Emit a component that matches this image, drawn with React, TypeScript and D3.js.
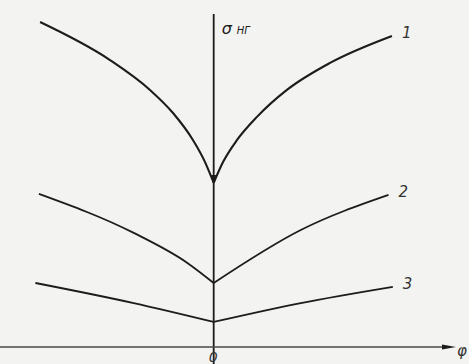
import React from "react";
import * as d3 from "d3";

// Stress σ_НГ versus angle φ, three curves with a cusp at φ = 0
const curve1Left: [number, number][] = [
  [-1.003, 10.0], [-0.599, 8.83], [-0.368, 7.91], [-0.235, 7.2],
  [-0.12, 6.37], [-0.05, 5.69], [0, 5.05],
];
const curve1Right: [number, number][] = [
  [0, 5.05], [0.054, 5.69], [0.135, 6.37], [0.25, 7.08],
  [0.423, 7.91], [0.672, 8.74], [1.03, 9.57],
];
const curve2Left: [number, number][] = [
  [-1.01, 4.71], [-0.462, 3.51], [-0.15, 2.58], [0, 1.97],
];
const curve2Right: [number, number][] = [
  [0, 1.97], [0.503, 3.6], [1.01, 4.68],
];
const curve3Left: [number, number][] = [
  [-1.03, 1.97], [-0.462, 1.35], [0, 0.77],
];
const curve3Right: [number, number][] = [
  [0, 0.77], [0.503, 1.35], [1.035, 1.85],
];
const curveLabels = ["1", "2", "3"];

const W = 469;
const H = 364;

export default function App() {
  const x = d3.scaleLinear().domain([-1.2, 1.4]).range([6, 456]);
  const y = d3.scaleLinear().domain([0, 10]).range([347, 22]);
  const line = d3
    .line<[number, number]>()
    .x((d) => x(d[0]))
    .y((d) => y(d[1]))
    .curve(d3.curveMonotoneX);

  const curves = [
    { left: curve1Left, right: curve1Right, w: 2.1 },
    { left: curve2Left, right: curve2Right, w: 1.8 },
    { left: curve3Left, right: curve3Right, w: 1.8 },
  ];

  const x0 = x(0);
  const yAxis = y(0);
  const ink = "#1e1b1b";
  const cusp1 = y(curve1Left[curve1Left.length - 1][1]);

  return (
    <svg
      width={W}
      height={H}
      style={{ position: "absolute", left: 0, top: 0, background: "#f3f3f1" }}
    >
      {/* vertical σ axis */}
      <line x1={x0} x2={x0} y1={14} y2={H} stroke={ink} strokeWidth={1.8} />
      {/* horizontal φ axis with arrow */}
      <line x1={0} x2={444} y1={yAxis} y2={yAxis} stroke="#4a4848" strokeWidth={1.4} />
      <path
        d={`M442,${yAxis - 2.5} L456,${yAxis} L442,${yAxis + 2.5} Z`}
        fill={ink}
      />
      {curves.map((c, i) => {
        const end = c.right[c.right.length - 1];
        return (
          <g key={i}>
            <path d={line(c.left) ?? ""} fill="none" stroke={ink} strokeWidth={c.w} />
            <path d={line(c.right) ?? ""} fill="none" stroke={ink} strokeWidth={c.w} />
            <text
              x={x(end[0]) + 10}
              y={y(end[1]) + 2}
              fontFamily="DejaVu Sans, sans-serif"
              fontStyle="italic"
              fontSize={15}
              fill="#333"
            >
              {curveLabels[i]}
            </text>
          </g>
        );
      })}
      {/* small wedge at the upper cusp */}
      <path
        d={`M${x0 - 2.5},${cusp1 - 8} L${x0},${cusp1 + 1} L${x0 + 2.5},${cusp1 - 8} Z`}
        fill={ink}
      />
      {/* axis titles */}
      <text
        x={x0 + 8}
        y={34}
        fontFamily="DejaVu Sans, sans-serif"
        fontStyle="italic"
        fontSize={16}
        fill={ink}
      >
        σ
      </text>
      <text
        x={x0 + 23}
        y={34}
        fontFamily="DejaVu Sans, sans-serif"
        fontStyle="italic"
        fontSize={10}
        fill={ink}
      >
        НГ
      </text>
      <text
        x={x0 - 5}
        y={362}
        fontFamily="DejaVu Sans, sans-serif"
        fontStyle="italic"
        fontSize={14}
        fill="#333"
      >
        0
      </text>
      <text
        x={457}
        y={356}
        fontFamily="DejaVu Sans, sans-serif"
        fontStyle="italic"
        fontSize={15}
        fill="#333"
      >
        φ
      </text>
    </svg>
  );
}
